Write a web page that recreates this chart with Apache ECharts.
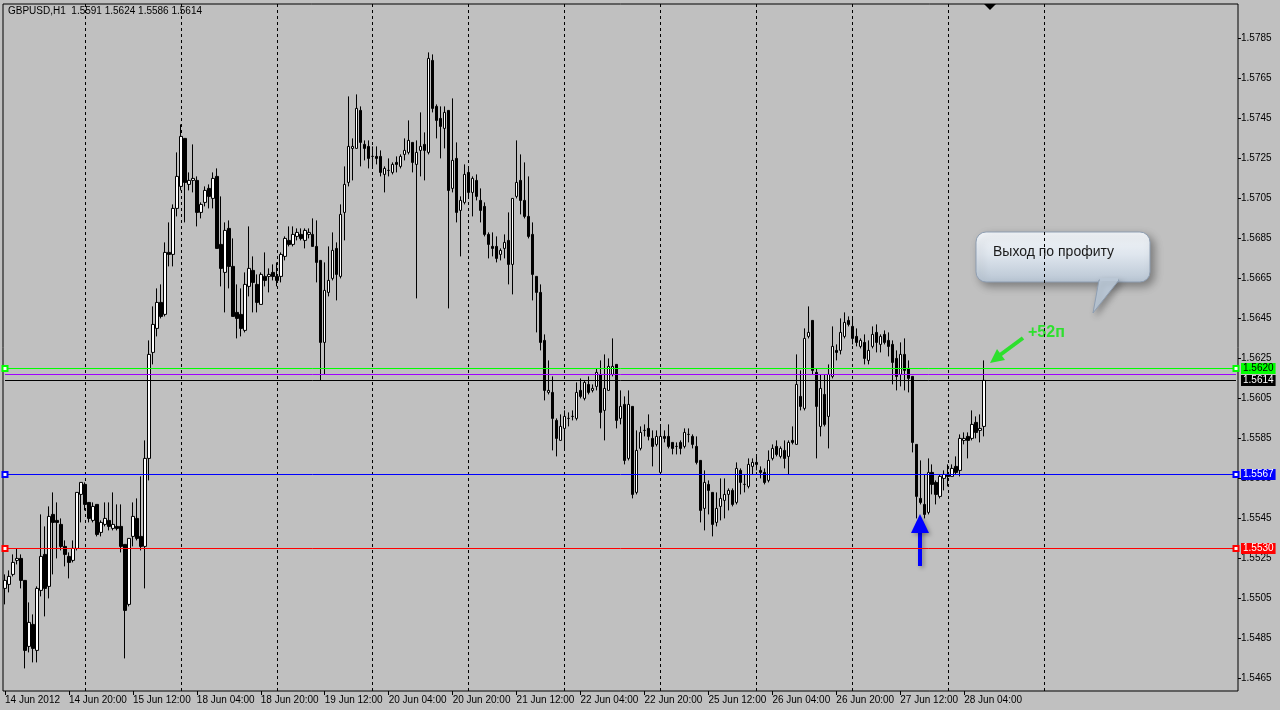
<!DOCTYPE html>
<html><head><meta charset="utf-8">
<script src="https://cdn.jsdelivr.net/npm/echarts@6/dist/echarts.min.js"></script>
<style>html,body{margin:0;padding:0;background:#c0c0c0;overflow:hidden}#c{width:1280px;height:710px}</style>
</head><body><div id="c"></div>
<script>
const symbolName = 'GBPUSD,H1';
const days = ['14 Jun','15 Jun','18 Jun','19 Jun','20 Jun','21 Jun','22 Jun','25 Jun','26 Jun','27 Jun','28 Jun'];
const dateTicks = ['14 Jun 2012','14 Jun 20:00','15 Jun 12:00','18 Jun 04:00','18 Jun 20:00','19 Jun 12:00','20 Jun 04:00','20 Jun 20:00','21 Jun 12:00','22 Jun 04:00','22 Jun 20:00','25 Jun 12:00','26 Jun 04:00','26 Jun 20:00','27 Jun 12:00','28 Jun 04:00'];
const priceTicks = [1.5465,1.5485,1.5505,1.5525,1.5545,1.5565,1.5585,1.5605,1.5625,1.5645,1.5665,1.5685,1.5705,1.5725,1.5745,1.5765,1.5785];

const open = [
1.5510,1.5512,1.5517,1.5524,1.5525,1.5514,1.5481,1.5492,1.5479,1.5509,
1.5527,1.5511,1.5547,1.5544,1.5542,1.5531,1.5526,1.5524,1.5530,1.5557,
1.5562,1.5553,1.5544,1.5552,1.5538,1.5542,1.5544,1.5540,1.5541,1.5541,
1.5532,1.5502,1.5536,1.5545,1.5536,1.5531,1.5575,1.5628,1.5640,1.5653,
1.5647,1.5678,1.5677,1.5700,1.5711,1.5735,1.5712,1.5714,1.5714,1.5698,
1.5703,1.5710,1.5705,1.5716,1.5682,1.5668,1.5690,1.5671,1.5648,1.5647,
1.5639,1.5661,1.5669,1.5662,1.5652,1.5666,1.5666,1.5668,1.5666,1.5666,
1.5676,1.5684,1.5682,1.5686,1.5687,1.5684,1.5687,1.5687,1.5681,1.5674,
1.5633,1.5658,1.5665,1.5680,1.5666,1.5698,1.5713,1.5730,1.5730,1.5749,
1.5732,1.5731,1.5726,1.5726,1.5726,1.5717,1.5719,1.5718,1.5723,1.5721,
1.5727,1.5728,1.5733,1.5722,1.5729,1.5732,1.5728,1.5774,1.5751,1.5745,
1.5740,1.5749,1.5710,1.5725,1.5699,1.5703,1.5718,1.5708,1.5714,1.5704,
1.5701,1.5687,1.5681,1.5681,1.5677,1.5680,1.5684,1.5672,1.5706,1.5714,
1.5704,1.5696,1.5687,1.5666,1.5658,1.5634,1.5608,1.5608,1.5594,1.5584,
1.5590,1.5595,1.5596,1.5595,1.5609,1.5605,1.5612,1.5609,1.5611,1.5617,
1.5599,1.5609,1.5617,1.5622,1.5595,1.5602,1.5575,1.5601,1.5558,1.5580,
1.5589,1.5590,1.5585,1.5582,1.5568,1.5586,1.5586,1.5583,1.5581,1.5583,
1.5581,1.5587,1.5586,1.5581,1.5574,1.5550,1.5562,1.5558,1.5543,1.5551,
1.5554,1.5557,1.5559,1.5553,1.5569,1.5562,1.5561,1.5571,1.5573,1.5569,
1.5568,1.5564,1.5575,1.5581,1.5576,1.5579,1.5576,1.5584,1.5582,1.5606,
1.5600,1.5636,1.5644,1.5618,1.5591,1.5607,1.5596,1.5616,1.5629,1.5629,
1.5636,1.5644,1.5641,1.5636,1.5631,1.5633,1.5624,1.5631,1.5638,1.5632,
1.5637,1.5634,1.5632,1.5625,1.5617,1.5627,1.5620,1.5616,1.5582,1.5555,
1.5552,1.5548,1.5568,1.5563,1.5556,1.5565,1.5567,1.5566,1.5571,1.5569,
1.5584,1.5586,1.5585,1.5593,1.5589,1.5591];
const high = [
1.5517,1.5519,1.5527,1.5530,1.5527,1.5514,1.5503,1.5497,1.5511,1.5547,
1.5541,1.5551,1.5558,1.5553,1.5545,1.5534,1.5528,1.5534,1.5558,1.5563,
1.5563,1.5553,1.5553,1.5552,1.5544,1.5553,1.5553,1.5558,1.5552,1.5552,
1.5532,1.5535,1.5553,1.5555,1.5566,1.5584,1.5634,1.5651,1.5660,1.5662,
1.5683,1.5693,1.5702,1.5728,1.5742,1.5735,1.5718,1.5732,1.5716,1.5703,
1.5711,1.5712,1.5718,1.5720,1.5706,1.5693,1.5694,1.5685,1.5662,1.5660,
1.5668,1.5691,1.5676,1.5667,1.5668,1.5678,1.5670,1.5672,1.5673,1.5678,
1.5686,1.5691,1.5691,1.5690,1.5690,1.5690,1.5690,1.5695,1.5694,1.5674,
1.5673,1.5681,1.5688,1.5683,1.5702,1.5721,1.5756,1.5735,1.5757,1.5751,
1.5734,1.5734,1.5731,1.5731,1.5729,1.5721,1.5725,1.5723,1.5726,1.5727,
1.5735,1.5744,1.5733,1.5734,1.5748,1.5738,1.5778,1.5777,1.5752,1.5751,
1.5751,1.5749,1.5755,1.5733,1.5706,1.5722,1.5721,1.5716,1.5717,1.5710,
1.5703,1.5688,1.5688,1.5686,1.5680,1.5687,1.5698,1.5705,1.5734,1.5727,
1.5723,1.5716,1.5693,1.5666,1.5662,1.5637,1.5624,1.5616,1.5595,1.5597,
1.5599,1.5598,1.5599,1.5613,1.5615,1.5614,1.5616,1.5612,1.5620,1.5624,
1.5627,1.5625,1.5635,1.5622,1.5609,1.5606,1.5609,1.5601,1.5589,1.5591,
1.5592,1.5597,1.5589,1.5589,1.5592,1.5589,1.5592,1.5583,1.5583,1.5584,
1.5590,1.5590,1.5587,1.5586,1.5574,1.5569,1.5564,1.5558,1.5558,1.5565,
1.5565,1.5560,1.5560,1.5573,1.5570,1.5567,1.5575,1.5575,1.5576,1.5571,
1.5570,1.5579,1.5582,1.5584,1.5581,1.5584,1.5584,1.5591,1.5627,1.5619,
1.5640,1.5651,1.5644,1.5620,1.5617,1.5617,1.5622,1.5641,1.5632,1.5645,
1.5648,1.5646,1.5645,1.5640,1.5635,1.5637,1.5634,1.5641,1.5642,1.5637,
1.5639,1.5638,1.5634,1.5629,1.5633,1.5635,1.5624,1.5616,1.5582,1.5574,
1.5567,1.5575,1.5572,1.5564,1.5567,1.5569,1.5572,1.5572,1.5576,1.5587,
1.5588,1.5588,1.5599,1.5596,1.5597,1.5624];
const low = [
1.5502,1.5508,1.5516,1.5522,1.5510,1.5470,1.5478,1.5473,1.5473,1.5506,
1.5496,1.5505,1.5517,1.5525,1.5529,1.5521,1.5515,1.5523,1.5529,1.5543,
1.5549,1.5543,1.5543,1.5536,1.5536,1.5541,1.5539,1.5539,1.5539,1.5528,
1.5475,1.5501,1.5531,1.5534,1.5529,1.5510,1.5564,1.5622,1.5636,1.5645,
1.5646,1.5671,1.5671,1.5696,1.5709,1.5693,1.5709,1.5708,1.5691,1.5695,
1.5701,1.5700,1.5700,1.5680,1.5661,1.5648,1.5660,1.5646,1.5635,1.5636,
1.5638,1.5656,1.5648,1.5648,1.5652,1.5661,1.5658,1.5664,1.5661,1.5663,
1.5674,1.5681,1.5681,1.5684,1.5684,1.5680,1.5685,1.5681,1.5663,1.5614,
1.5617,1.5656,1.5664,1.5654,1.5665,1.5684,1.5711,1.5714,1.5730,1.5721,
1.5724,1.5720,1.5720,1.5722,1.5716,1.5708,1.5716,1.5717,1.5718,1.5720,
1.5724,1.5727,1.5718,1.5655,1.5716,1.5714,1.5727,1.5748,1.5735,1.5725,
1.5730,1.5650,1.5708,1.5693,1.5676,1.5702,1.5706,1.5696,1.5704,1.5693,
1.5686,1.5675,1.5676,1.5673,1.5674,1.5675,1.5662,1.5657,1.5705,1.5697,
1.5695,1.5685,1.5654,1.5638,1.5629,1.5604,1.5607,1.5579,1.5576,1.5584,
1.5579,1.5591,1.5594,1.5594,1.5605,1.5604,1.5607,1.5608,1.5609,1.5590,
1.5584,1.5609,1.5616,1.5590,1.5592,1.5572,1.5574,1.5555,1.5557,1.5579,
1.5586,1.5584,1.5571,1.5581,1.5567,1.5583,1.5580,1.5577,1.5577,1.5577,
1.5580,1.5583,1.5580,1.5572,1.5543,1.5539,1.5547,1.5536,1.5541,1.5544,
1.5545,1.5549,1.5551,1.5552,1.5557,1.5558,1.5560,1.5567,1.5569,1.5565,
1.5562,1.5563,1.5574,1.5576,1.5575,1.5570,1.5567,1.5582,1.5582,1.5599,
1.5599,1.5635,1.5617,1.5575,1.5586,1.5591,1.5580,1.5615,1.5624,1.5627,
1.5635,1.5641,1.5632,1.5631,1.5630,1.5622,1.5622,1.5630,1.5628,1.5628,
1.5632,1.5626,1.5612,1.5609,1.5611,1.5609,1.5608,1.5578,1.5545,1.5552,
1.5545,1.5547,1.5557,1.5552,1.5555,1.5559,1.5561,1.5566,1.5567,1.5566,
1.5582,1.5575,1.5584,1.5585,1.5583,1.5586];
const close = [
1.5514,1.5516,1.5523,1.5525,1.5514,1.5479,1.5493,1.5480,1.5510,1.5526,
1.5510,1.5546,1.5543,1.5543,1.5531,1.5527,1.5523,1.5530,1.5558,1.5563,
1.5552,1.5545,1.5551,1.5537,1.5543,1.5545,1.5541,1.5542,1.5540,1.5531,
1.5499,1.5535,1.5546,1.5535,1.5531,1.5575,1.5627,1.5642,1.5653,1.5646,
1.5678,1.5677,1.5700,1.5716,1.5736,1.5713,1.5714,1.5715,1.5698,1.5702,
1.5709,1.5706,1.5715,1.5680,1.5670,1.5689,1.5671,1.5646,1.5645,1.5640,
1.5662,1.5670,1.5663,1.5653,1.5667,1.5664,1.5667,1.5666,1.5664,1.5677,
1.5685,1.5682,1.5687,1.5688,1.5685,1.5689,1.5688,1.5681,1.5673,1.5633,
1.5659,1.5664,1.5679,1.5667,1.5697,1.5712,1.5731,1.5731,1.5750,1.5733,
1.5730,1.5725,1.5726,1.5725,1.5718,1.5720,1.5719,1.5722,1.5722,1.5726,
1.5729,1.5734,1.5723,1.5728,1.5731,1.5729,1.5775,1.5750,1.5744,1.5741,
1.5748,1.5709,1.5724,1.5698,1.5704,1.5717,1.5708,1.5715,1.5706,1.5699,
1.5687,1.5682,1.5680,1.5675,1.5679,1.5683,1.5672,1.5705,1.5713,1.5704,
1.5696,1.5686,1.5667,1.5658,1.5633,1.5609,1.5609,1.5595,1.5585,1.5591,
1.5596,1.5595,1.5596,1.5608,1.5606,1.5613,1.5608,1.5610,1.5618,1.5598,
1.5610,1.5621,1.5621,1.5594,1.5601,1.5574,1.5602,1.5557,1.5579,1.5588,
1.5589,1.5586,1.5581,1.5586,1.5586,1.5585,1.5581,1.5580,1.5581,1.5580,
1.5588,1.5587,1.5582,1.5573,1.5549,1.5563,1.5559,1.5542,1.5550,1.5555,
1.5557,1.5559,1.5552,1.5570,1.5563,1.5562,1.5572,1.5573,1.5572,1.5568,
1.5563,1.5574,1.5580,1.5577,1.5580,1.5575,1.5583,1.5583,1.5612,1.5601,
1.5635,1.5638,1.5619,1.5601,1.5610,1.5592,1.5617,1.5631,1.5628,1.5638,
1.5643,1.5642,1.5635,1.5633,1.5634,1.5625,1.5629,1.5637,1.5633,1.5636,
1.5633,1.5631,1.5623,1.5616,1.5627,1.5619,1.5615,1.5583,1.5556,1.5553,
1.5547,1.5568,1.5562,1.5557,1.5566,1.5567,1.5566,1.5570,1.5568,1.5585,
1.5585,1.5584,1.5592,1.5588,1.5590,1.5614];

// horizontal levels: take profit, ask, bid, entry, stop loss
const levelPrices = [1.5620, 1.5617, 1.5614, 1.5567, 1.5530];
const calloutText = 'Выход по профиту';
const profitText = '+52п';

// ---- build categories (hourly bars, weekends skipped) ----
const categories = [];
days.forEach((d, k) => {
  const h0 = k === 0 ? 4 : 0;
  const h1 = k === days.length - 1 ? 9 : 23;
  for (let h = h0; h <= h1; h++) categories.push(d + ' ' + String(h).padStart(2, '0') + ':00');
});
const SLOTS = 309;
for (let i = categories.length; i < SLOTS; i++) categories.push('·' + i);
const candles = open.map((o, i) => [o, close[i], low[i], high[i]]);
const last = open.length - 1;
const header = symbolName + '  ' + [open[last], high[last], low[last], close[last]].map(v => v.toFixed(4)).join(' ');

const isLabel = (i) => i % 16 === 0 && i <= 240;
const isDay = (i) => i >= 20 && (i - 20) % 24 === 0 && i <= 260;

const levelStyles = [
  {line: '#00ff00', bg: '#00ff00', fg: '#000000', ends: true, label: true},
  {line: '#a000ff', ends: false, label: false},
  {line: '#000000', bg: '#000000', fg: '#ffffff', ends: false, label: true},
  {line: '#0000ff', bg: '#0000ff', fg: '#ffffff', ends: true, label: true},
  {line: '#ff0000', bg: '#ff0000', fg: '#ffffff', ends: true, label: true}
];

const markLineData = levelPrices.map((p, k) => {
  const s = levelStyles[k];
  const sym = s.ends ? 'emptyRect' : 'none';
  return [
    {coord: [categories[0], p], symbol: sym, symbolSize: 5,
     lineStyle: {color: s.line, width: 1, type: 'solid'},
     label: s.label ? {show: true, position: 'end', distance: 5, formatter: p.toFixed(4),
       color: s.fg, backgroundColor: s.bg, padding: [1, 2, 0, 2], fontSize: 10,
       fontFamily: 'Liberation Sans'} : {show: false}},
    {coord: [categories[SLOTS - 1], p], symbol: sym, symbolSize: 5}
  ];
});

const chart = echarts.init(document.getElementById('c'), null, {renderer: 'canvas'});
const option = {
  animation: false,
  backgroundColor: '#c0c0c0',
  grid: {left: 3, right: 42, top: 4, bottom: 19, show: true, borderColor: '#000', borderWidth: 1, backgroundColor: '#c0c0c0'},
  xAxis: {
    type: 'category', data: categories, boundaryGap: true,
    axisLine: {show: false},
    axisTick: {show: true, alignWithLabel: true, interval: isLabel, length: 4, lineStyle: {color: '#000'}},
    axisLabel: {interval: isLabel, align: 'left', margin: 4, color: '#000', fontSize: 10, fontFamily: 'Liberation Sans',
      formatter: (v) => { const k = categories.indexOf(v); return isLabel(k) ? dateTicks[k / 16] : ''; }},
    splitLine: {show: true, alignWithLabel: true, interval: isDay, lineStyle: {color: '#000', type: [3, 3], width: 1}}
  },
  yAxis: {
    type: 'value', position: 'right', min: 1.54587, max: 1.58022,
    axisLine: {show: false},
    axisTick: {show: true, length: 3, customValues: priceTicks, lineStyle: {color: '#000'}},
    axisLabel: {customValues: priceTicks, formatter: (v) => v.toFixed(4), color: '#000', fontSize: 10, margin: 3, fontFamily: 'Liberation Sans'},
    splitLine: {show: false}
  },
  series: [{
    type: 'candlestick', data: candles, barWidth: 3,
    itemStyle: {color: '#ffffff', color0: '#000000', borderColor: '#000000', borderColor0: '#000000', borderColorDoji: '#000000', borderWidth: 1},
    markLine: {silent: true, animation: false, data: markLineData}
  }],
  graphic: [
    {type: 'text', left: 8, top: 6, style: {text: header, fill: '#000', font: '10px "Liberation Sans"'}},
    {type: 'polygon', shape: {points: [[984, 4], [996, 4], [990, 10]]}, style: {fill: '#000'}},
    {type: 'group', children: [
      {type: 'rect', shape: {x: 976, y: 232, width: 174, height: 50, r: 10},
       style: {fill: new echarts.graphic.LinearGradient(0, 0, 0, 1, [{offset: 0, color: '#f3f6f9'}, {offset: 0.45, color: '#dfe6ee'}, {offset: 1, color: '#b8c5d3'}]),
         stroke: '#8f9fb3', lineWidth: 1, shadowBlur: 8, shadowOffsetX: 4, shadowOffsetY: 4, shadowColor: 'rgba(0,0,0,0.35)'}},
      {type: 'polygon', shape: {points: [[1099, 280], [1119, 280], [1093, 313]]},
       style: {fill: '#bac7d5', stroke: '#8f9fb3', lineWidth: 1, shadowBlur: 6, shadowOffsetX: 3, shadowOffsetY: 3, shadowColor: 'rgba(0,0,0,0.3)'}},
      {type: 'rect', shape: {x: 1100, y: 278, width: 18, height: 3}, style: {fill: '#bac7d5'}},
      {type: 'text', x: 993, y: 252, style: {text: calloutText, fill: '#1a1a1a', font: '14px "Liberation Sans"', verticalAlign: 'middle'}}
    ]},
    {type: 'text', x: 1028, y: 333, style: {text: profitText, fill: '#2ee02e', font: 'bold 16px "Liberation Sans"', verticalAlign: 'middle'}},
    {type: 'line', shape: {x1: 1023, y1: 338, x2: 1000, y2: 355}, style: {stroke: '#2ee02e', lineWidth: 4}},
    {type: 'polygon', shape: {points: [[990, 363], [1005, 360], [997, 349]]}, style: {fill: '#2ee02e'}},
    {type: 'line', shape: {x1: 920, y1: 566, x2: 920, y2: 528}, style: {stroke: '#0000ff', lineWidth: 4, shadowBlur: 4, shadowOffsetX: 2, shadowOffsetY: 2, shadowColor: 'rgba(0,0,0,0.3)'}},
    {type: 'polygon', shape: {points: [[920, 514], [929, 533], [911, 533]]}, style: {fill: '#0000ff', shadowBlur: 4, shadowOffsetX: 2, shadowOffsetY: 2, shadowColor: 'rgba(0,0,0,0.3)'}}
  ]
};
chart.setOption(option);
</script>
</body></html>
